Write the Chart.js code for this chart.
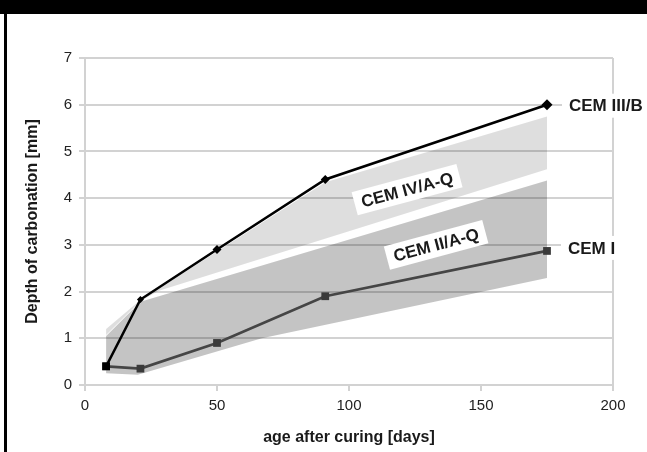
<!DOCTYPE html>
<html>
<head>
<meta charset="utf-8">
<script src="https://cdn.jsdelivr.net/npm/chart.js@4.4.1/dist/chart.umd.min.js"></script>
<style>
  html, body { margin: 0; padding: 0; background: #fff; }
  #wrap { position: relative; width: 647px; height: 452px; overflow: hidden; }
  #wrap canvas { position: absolute; left: 0; top: 0; }
  #topbar { position: absolute; left: 0; top: 0; width: 647px; height: 14px; background: #000; }
  #leftbar { position: absolute; left: 4px; top: 0; width: 3px; height: 452px; background: #000; }
</style>
</head>
<body>
<div id="wrap">
  <canvas id="chartCarbonation" width="647" height="452"></canvas>
  <div id="topbar"></div>
  <div id="leftbar"></div>
</div>
<script>
// Data
const ageDays = [8, 21, 50, 91, 175];
const cemIIIB = [0.4, 1.83, 2.9, 4.4, 6.0];
const cemI = [0.4, 0.35, 0.9, 1.9, 2.87];

// shaded ranges, outline traced round each area (age, depth)
const bandIVAQ_x = [8, 21, 50, 91, 175, 175, 28, 21, 8];
const bandIVAQ_y = [1.2, 1.82, 2.86, 4.34, 5.75, 4.62, 2.02, 1.8, 1.07];
const bandIIAQ_x = [8, 21, 175, 175, 67, 20, 8];
const bandIIAQ_y = [1.05, 1.78, 4.38, 2.29, 1.0, 0.22, 0.25];

const xTicks = [0, 50, 100, 150, 200];
const yTicks = [0, 1, 2, 3, 4, 5, 6, 7];

const FONT = '"Liberation Sans", Arial, sans-serif';
const GRID = '#d2d2d2';

const toPoints = (xs, ys) => xs.map((x, i) => ({ x: x, y: ys[i] }));

// white boxed labels for the series and the shaded ranges
const labelPlugin = {
  id: 'seriesLabels',
  afterDatasetsDraw(chart) {
    const { ctx, scales: { x, y } } = chart;
    ctx.save();
    ctx.font = 'bold 17px ' + FONT;
    ctx.textBaseline = 'middle';

    const boxed = (text, px, py, angle, align) => {
      ctx.save();
      ctx.translate(px, py);
      ctx.rotate(angle);
      const w = ctx.measureText(text).width;
      const x0 = align === 'center' ? -w / 2 : 0;
      ctx.fillStyle = '#fff';
      ctx.fillRect(x0 - 7, -12, w + 14, 24);
      ctx.fillStyle = '#1a1a1a';
      ctx.textAlign = 'left';
      ctx.fillText(text, x0, 1);
      ctx.restore();
    };

    const last = ageDays.length - 1;
    boxed('CEM III/B', x.getPixelForValue(ageDays[last]) + 22, y.getPixelForValue(cemIIIB[last]) + 1, 0, 'left');
    boxed('CEM I', x.getPixelForValue(ageDays[last]) + 21, y.getPixelForValue(cemI[last]) - 3, 0, 'left');
    const tilt = -15 * Math.PI / 180;
    boxed('CEM IV/A-Q', x.getPixelForValue(122), y.getPixelForValue(4.18), tilt, 'center');
    boxed('CEM II/A-Q', x.getPixelForValue(133), y.getPixelForValue(3.0), tilt, 'center');
    ctx.restore();
  }
};

const ctx = document.getElementById('chartCarbonation').getContext('2d');

const config = {
  type: 'line',
  data: {
    datasets: [
      {
        label: 'CEM III/B',
        data: toPoints(ageDays, cemIIIB),
        borderColor: '#000',
        backgroundColor: '#000',
        borderWidth: 2.5,
        pointStyle: ['rect', 'rectRot', 'rectRot', 'rectRot', 'rectRot'],
        pointRadius: [5.5, 3.5, 4.5, 4.5, 5.5],
        pointBorderWidth: 0,
        order: 1
      },
      {
        label: 'CEM I',
        data: toPoints(ageDays, cemI),
        borderColor: '#454545',
        backgroundColor: '#3a3a3a',
        borderWidth: 2.7,
        pointStyle: 'rect',
        pointRadius: 5.5,
        pointBorderWidth: 0,
        order: 2
      },
      {
        label: 'CEM II/A-Q',
        data: toPoints(bandIIAQ_x, bandIIAQ_y),
        borderWidth: 0,
        borderColor: 'transparent',
        backgroundColor: 'rgba(0,0,0,0.23)',
        pointRadius: 0,
        fill: 'shape',
        order: 3
      },
      {
        label: 'CEM IV/A-Q',
        data: toPoints(bandIVAQ_x, bandIVAQ_y),
        borderWidth: 0,
        borderColor: 'transparent',
        backgroundColor: 'rgba(0,0,0,0.13)',
        pointRadius: 0,
        fill: 'shape',
        order: 4
      }
    ]
  },
  options: {
    responsive: false,
    animation: false,
    layout: { padding: { top: 58, right: 34, left: 0, bottom: 0 } },
    plugins: {
      legend: { display: false },
      tooltip: { enabled: false }
    },
    scales: {
      x: {
        type: 'linear',
        min: 0,
        max: 200,
        afterBuildTicks: s => { s.ticks = xTicks.map(v => ({ value: v })); },
        afterFit: s => { s.height = 67; },
        ticks: { color: '#222', font: { family: FONT, size: 15 }, padding: 6 },
        grid: {
          color: c => (c.tick && c.tick.value === 200 ? GRID : 'rgba(0,0,0,0)'),
          tickColor: GRID,
          lineWidth: 2,
          tickLength: 6
        },
        border: { color: GRID, width: 2 },
        title: {
          display: true,
          text: 'age after curing [days]',
          color: '#1a1a1a',
          font: { family: FONT, size: 16, weight: 'bold' },
          padding: { top: 0, bottom: 5 }
        }
      },
      y: {
        min: 0,
        max: 7,
        afterBuildTicks: s => { s.ticks = yTicks.map(v => ({ value: v })); },
        afterFit: s => { s.width = 85; },
        ticks: { color: '#222', font: { family: FONT, size: 15 }, padding: 7 },
        grid: { color: GRID, lineWidth: 2, tickLength: 6 },
        border: { color: GRID, width: 2 },
        title: {
          display: true,
          text: 'Depth of carbonation [mm]',
          color: '#1a1a1a',
          font: { family: FONT, size: 16, weight: 'bold' },
          padding: { top: 23, bottom: 0 }
        }
      }
    }
  },
  plugins: [labelPlugin]
};

const chartCarbonation = new Chart(ctx, config);
</script>
</body>
</html>
